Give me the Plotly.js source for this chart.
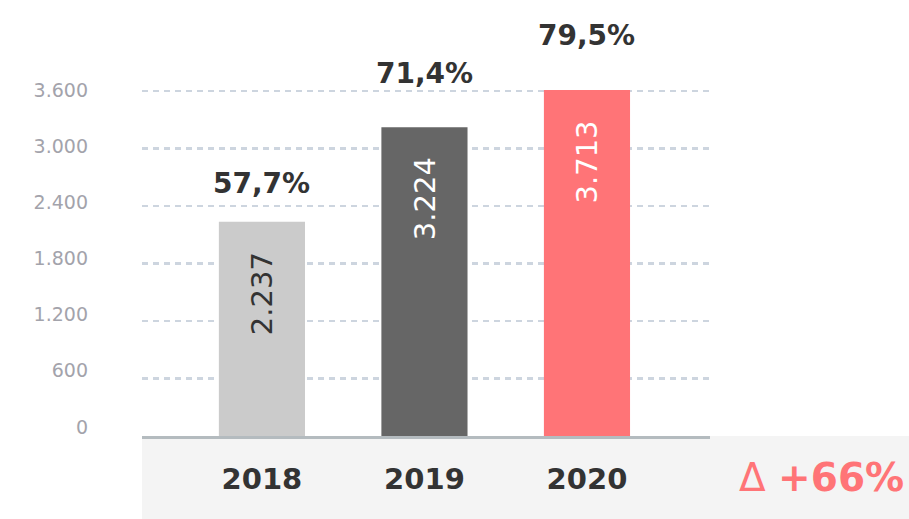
<!DOCTYPE html>
<html>
<head>
<meta charset="utf-8">
<script src="https://cdn.plot.ly/plotly-3.0.1.min.js"></script>
<style>html,body{margin:0;padding:0;background:#fff;}#chart{width:909px;height:519px;}</style>
</head>
<body>
<div id="chart"></div>
<script>
// ---- data ----
var years = ['2018', '2019', '2020'];
var values = [2237, 3224, 3713];
var shares = [57.7, 71.4, 79.5];
var yTicks = [0, 600, 1200, 1800, 2400, 3000, 3600];

// ---- styles ----
var barColors = ['#cbcbcb', '#666666', '#ff7477'];
var valueLabelColors = ['#333333', '#ffffff', '#ffffff'];
var shareShift = [38, 54, 55];
var yMax = 3612;

function fmtThousands(v) {
  return String(v).replace(/\B(?=(\d{3})+(?!\d))/g, '.');
}
function fmtPct(p) {
  return p.toFixed(1).replace('.', ',') + '%';
}

var trace = {
  type: 'bar',
  x: years,
  y: values,
  marker: {color: barColors, line: {width: 0}},
  width: 0.53,
  hoverinfo: 'none'
};

// invisible companion trace that carries the tick-label axis
var labelAxisTrace = {
  type: 'scatter', mode: 'markers',
  x: years, y: values, yaxis: 'y2',
  marker: {opacity: 0, size: 1},
  hoverinfo: 'none', showlegend: false
};

var annotations = [];
years.forEach(function (yr, i) {
  var yTop = Math.min(values[i], yMax);
  annotations.push({
    x: i, y: yTop, xref: 'x', yref: 'y',
    text: fmtThousands(values[i]),
    textangle: -90, showarrow: false,
    xanchor: 'center', yanchor: 'top', yshift: -28,
    font: {family: 'DejaVu Sans', size: 29, color: valueLabelColors[i]}
  });
  annotations.push({
    x: i, y: yTop, xref: 'x', yref: 'y',
    text: '<b>' + fmtPct(shares[i]) + '</b>',
    showarrow: false, xanchor: 'center', yanchor: 'middle', yshift: shareShift[i],
    font: {family: 'DejaVu Sans', size: 28, color: '#333333'}
  });
});

var delta = Math.round((values[values.length - 1] / values[0] - 1) * 100);
annotations.push({
  xref: 'paper', yref: 'paper', x: 1.345, y: -0.12,
  xanchor: 'right', yanchor: 'middle', showarrow: false,
  text: 'Δ <b>+' + delta + '%</b>',
  font: {family: 'DejaVu Sans', size: 39, color: '#ff7477'}
});

var layout = {
  width: 909, height: 519,
  margin: {l: 142, r: 199, t: 90, b: 83, pad: 0},
  paper_bgcolor: '#ffffff', plot_bgcolor: 'rgba(0,0,0,0)',
  separators: ',.',
  showlegend: false,
  xaxis: {
    type: 'category',
    range: [-0.738, 2.757],
    showline: true, linecolor: '#b4bbbf', linewidth: 3,
    ticks: '', showgrid: false, zeroline: false,
    tickfont: {family: 'DejaVu Sans', size: 29, color: '#333333', weight: 'bold'},
    ticklabelstandoff: 15
  },
  yaxis: {
    range: [0, yMax],
    tickmode: 'array', tickvals: yTicks,
    showticklabels: false,
    showline: false, zeroline: false, ticks: '',
    showgrid: true, gridcolor: '#cdd5df', gridwidth: 2.5, griddash: '6px,5px'
  },
  yaxis2: {
    domain: [0.026, 1],
    anchor: 'free', position: 0, side: 'left',
    range: [0, 3600],
    tickmode: 'array', tickvals: yTicks, tickformat: ',d',
    showgrid: false, zeroline: false, showline: false, ticks: '',
    tickfont: {family: 'DejaVu Sans', size: 19, color: '#a3a3ab'},
    ticklabelstandoff: 54
  },
  shapes: [{
    type: 'rect', xref: 'paper', yref: 'paper',
    x0: 0, x1: 1.36, y0: -0.25, y1: 0,
    fillcolor: '#f4f4f4', line: {width: 0}, layer: 'below'
  }],
  annotations: annotations
};

Plotly.newPlot('chart', [trace, labelAxisTrace], layout, {displayModeBar: false, staticPlot: true});
</script>
</body>
</html>
